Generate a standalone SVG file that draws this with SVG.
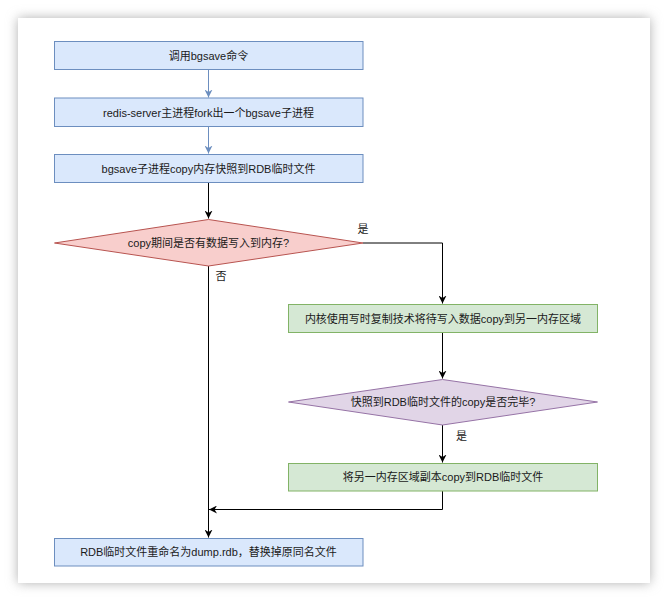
<svg xmlns="http://www.w3.org/2000/svg" width="668" height="602" viewBox="0 0 668 602">
<defs>
<filter id="sh" x="-10%" y="-10%" width="120%" height="120%">
<feGaussianBlur stdDeviation="6"/>
</filter>
<marker id="ab" viewBox="0 0 10 10" refX="10" refY="5" markerWidth="8" markerHeight="8" markerUnits="userSpaceOnUse" orient="auto">
<path d="M0,0 L10,5 L0,10 L3,5 Z" fill="#000"/>
</marker>
<marker id="ablue" viewBox="0 0 10 10" refX="10" refY="5" markerWidth="8" markerHeight="8" markerUnits="userSpaceOnUse" orient="auto">
<path d="M0,0 L10,5 L0,10 L3,5 Z" fill="#6c8ebf"/>
</marker>
<style>
text{font-family:"Liberation Sans","Noto Sans CJK SC",sans-serif;font-size:11px;fill:#1a1a1a;text-anchor:middle;dominant-baseline:central}
.blue{fill:#dae8fc;stroke:#6c8ebf;stroke-width:1}
.red{fill:#f8cecc;stroke:#b85450;stroke-width:1}
.green{fill:#d5e8d4;stroke:#82b366;stroke-width:1}
.purple{fill:#e1d5e7;stroke:#9673a6;stroke-width:1}
.c{fill:none;stroke:#000;stroke-width:1}
.cb{fill:none;stroke:#6c8ebf;stroke-width:1}
</style>
</defs>
<rect width="668" height="602" fill="#ffffff"/>
<rect x="18" y="18" width="632" height="565" fill="#b0b0b0" filter="url(#sh)"/>
<rect x="18" y="18" width="632" height="565" fill="#ffffff"/>

<g id="connectors">
<path class="cb" d="M208.5,69.5 V97.5" marker-end="url(#ablue)"/>
<path class="cb" d="M208.5,126.5 V153.5" marker-end="url(#ablue)"/>
<path class="c" d="M208.5,182.5 V218.5" marker-end="url(#ab)"/>
<path class="c" d="M363,243 H442.5 V303.5" marker-end="url(#ab)"/>
<path class="c" d="M442.5,332.5 V378.5" marker-end="url(#ab)"/>
<path class="c" d="M442.5,425 V462.5" marker-end="url(#ab)"/>
<path class="c" d="M208.5,266 V537.5" marker-end="url(#ab)"/>
<path class="c" d="M442.5,491 V509.5 H209" marker-end="url(#ab)"/>
<text x="363" y="229">是</text>
<text x="221" y="276">否</text>
<text x="461.5" y="435.5">是</text>
</g>

<g id="n1">
<rect class="blue" x="54.5" y="41.5" width="308.5" height="28"/>
<text x="208.5" y="55.5">调用bgsave命令</text>
</g>
<g id="n2">
<rect class="blue" x="54.5" y="98" width="308.5" height="28.5"/>
<text x="208.5" y="112.5">redis-server主进程fork出一个bgsave子进程</text>
</g>
<g id="n3">
<rect class="blue" x="54.5" y="154.5" width="308.5" height="28"/>
<text x="208.5" y="168.5">bgsave子进程copy内存快照到RDB临时文件</text>
</g>
<g id="n4">
<polygon class="red" points="208.5,219.5 363,243 208.5,266 54.5,243"/>
<text x="208.5" y="243">copy期间是否有数据写入到内存?</text>
</g>
<g id="n5">
<rect class="green" x="288.5" y="304.5" width="309" height="28"/>
<text x="443" y="318.5">内核使用写时复制技术将待写入数据copy到另一内存区域</text>
</g>
<g id="n6">
<polygon class="purple" points="442.5,379.5 597.5,402 442.5,425 288.5,402"/>
<text x="443" y="402">快照到RDB临时文件的copy是否完毕?</text>
</g>
<g id="n7">
<rect class="green" x="288.5" y="463.5" width="309" height="27.5"/>
<text x="443" y="477">将另一内存区域副本copy到RDB临时文件</text>
</g>
<g id="n8">
<rect class="blue" x="54.5" y="538.5" width="308.5" height="27.5"/>
<text x="208.5" y="552">RDB临时文件重命名为dump.rdb，替换掉原同名文件</text>
</g>
</svg>
